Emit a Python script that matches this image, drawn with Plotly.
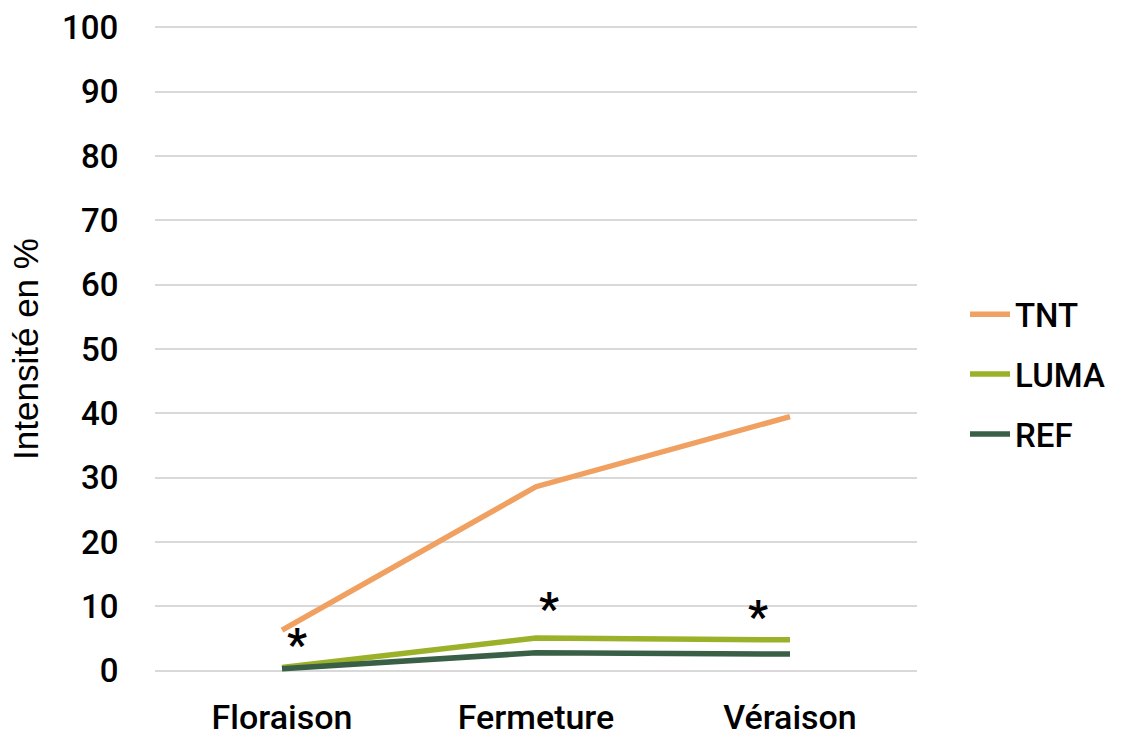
import plotly.graph_objects as go

categories = ["Floraison", "Fermeture", "Véraison"]
tnt = [6.3, 28.6, 39.5]
luma = [0.5, 5.1, 4.8]
ref = [0.3, 2.8, 2.6]
y_ticks = [0, 10, 20, 30, 40, 50, 60, 70, 80, 90, 100]

# asterisk markers (category position, value)
star_x = [0.06, 1.053, 1.873]
star_y = [4.0, 9.6, 8.3]

x_pos = list(range(len(categories)))

fig = go.Figure()
series = [("TNT", tnt, "#F0A060"), ("LUMA", luma, "#9BB12A"), ("REF", ref, "#3A5F47")]
for name, vals, col in series:
    fig.add_trace(go.Scatter(x=x_pos, y=vals, name=name, mode="lines", legendgroup=name,
                             line=dict(color=col, width=5.5)))

for sx, sy in zip(star_x, star_y):
    fig.add_annotation(x=sx, y=sy, text="*", showarrow=False,
                       font=dict(family="Roboto", size=44, color="black", weight="bold"),
                       xref="x", yref="y", yanchor="middle")

tickfont = dict(family="Roboto", size=33, color="black", weight=500)
fig.update_layout(
    width=1122, height=738,
    margin=dict(l=155, r=202, t=25, b=65),
    paper_bgcolor="white", plot_bgcolor="white",
    showlegend=True,
    legend=dict(x=1.063, y=0.461, xanchor="left", yanchor="middle",
                font=dict(family="Roboto", size=33, color="black", weight=500),
                tracegroupgap=14, itemwidth=40),
    xaxis=dict(range=[-0.5, 2.5], tickmode="array", tickvals=x_pos, ticktext=categories,
               showgrid=False, zeroline=False, showline=False, automargin=False,
               ticks="outside", ticklen=14, tickcolor="rgba(0,0,0,0)",
               tickfont=dict(family="Roboto", size=34, color="black", weight=500)),
    yaxis=dict(range=[-0.35, 100.35], tickmode="array", tickvals=y_ticks,
               showgrid=True, gridcolor="#D9D9D9", gridwidth=1.5,
               zeroline=False, showline=False, automargin=False,
               ticks="outside", ticklen=29, tickcolor="rgba(0,0,0,0)",
               tickfont=tickfont,
               title=dict(text="Intensité en %", standoff=12,
                          font=dict(family="Liberation Sans", size=35, color="black"))),
)

fig.write_html("out.html", config={"displayModeBar": False},
               post_script="document.body.style.margin='0';")
